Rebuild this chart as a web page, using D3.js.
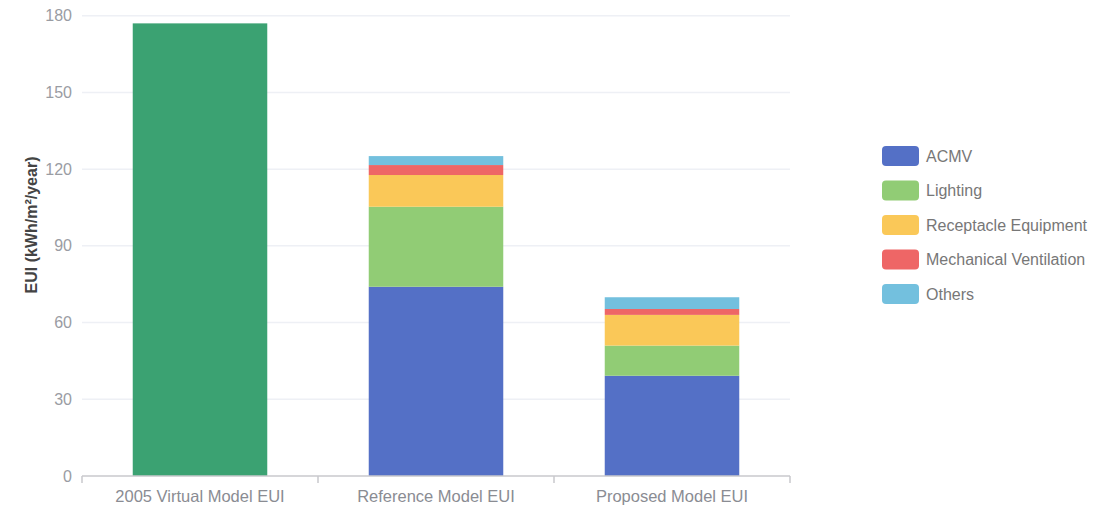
<!DOCTYPE html>
<html>
<head>
<meta charset="utf-8">
<script src="https://cdn.jsdelivr.net/npm/d3@7"></script>
<style>
  html, body { margin: 0; padding: 0; background: #fff; }
  svg { display: block; font-family: "Liberation Sans", Arial, sans-serif; }
</style>
</head>
<body>
<svg id="chart"></svg>
<script>
// categories and series values (EUI, kWh/m2/year)
const categories = ["2005 Virtual Model EUI", "Reference Model EUI", "Proposed Model EUI"];
const virtualModel = [177, 0, 0];
const acmv = [0, 74.0, 39.2];
const lighting = [0, 31.3, 11.8];
const receptacle = [0, 12.4, 12.0];
const mechVent = [0, 3.9, 2.3];
const others = [0, 3.5, 4.6];
const seriesNames = ["ACMV", "Lighting", "Receptacle Equipment", "Mechanical Ventilation", "Others"];
const yTicks = [0, 30, 60, 90, 120, 150, 180];

const w = 1112, h = 505;
const margin = {top: 15.7, right: 322, bottom: 29, left: 82};
const svg = d3.select("#chart").attr("width", w).attr("height", h);

const x = d3.scaleBand().domain(categories).range([margin.left, w - margin.right]);
const y = d3.scaleLinear().domain([0, 180]).range([h - margin.bottom, margin.top]);
const barW = x.bandwidth() * 0.57;

const colors = d3.scaleOrdinal().domain(seriesNames)
  .range(["#5470c6", "#91cc75", "#fac858", "#ee6666", "#73c0de"]);

// grid lines
svg.append("g").selectAll("line")
  .data(yTicks.filter(d => d > 0))
  .join("line")
  .attr("x1", margin.left).attr("x2", w - margin.right)
  .attr("y1", d => y(d)).attr("y2", d => y(d))
  .attr("stroke", "#eef0f5").attr("stroke-width", 1.5);

// y tick labels
svg.append("g").selectAll("text")
  .data(yTicks)
  .join("text")
  .attr("x", margin.left - 10).attr("y", d => y(d))
  .attr("dy", "0.35em").attr("text-anchor", "end")
  .attr("font-size", 16).attr("fill", "#9a9ca3")
  .text(d => d);

// y axis title
svg.append("text")
  .attr("transform", `translate(31,${225}) rotate(-90)`)
  .attr("text-anchor", "middle").attr("dy", "0.35em")
  .attr("font-size", 16).attr("font-weight", "bold").attr("fill", "#444")
  .text("EUI (kWh/m²/year)");

// single bar
svg.append("g").selectAll("rect")
  .data(categories.map((c, i) => ({c, v: virtualModel[i]})).filter(d => d.v > 0))
  .join("rect")
  .attr("x", d => x(d.c) + (x.bandwidth() - barW) / 2)
  .attr("width", barW)
  .attr("y", d => y(d.v))
  .attr("height", d => y(0) - y(d.v))
  .attr("fill", "#3ba272");

// stacked bars
const rows = categories.map((c, i) => ({
  cat: c,
  "ACMV": acmv[i], "Lighting": lighting[i], "Receptacle Equipment": receptacle[i],
  "Mechanical Ventilation": mechVent[i], "Others": others[i]
}));
const stacked = d3.stack().keys(seriesNames)(rows);

svg.append("g").selectAll("g")
  .data(stacked)
  .join("g")
  .attr("fill", d => colors(d.key))
  .selectAll("rect")
  .data(d => d.filter(s => s[1] - s[0] > 0))
  .join("rect")
  .attr("x", d => x(d.data.cat) + (x.bandwidth() - barW) / 2)
  .attr("width", barW)
  .attr("y", d => y(d[1]))
  .attr("height", d => y(d[0]) - y(d[1]));

// x axis
const xAxis = svg.append("g");
xAxis.append("line")
  .attr("x1", margin.left).attr("x2", w - margin.right)
  .attr("y1", y(0)).attr("y2", y(0))
  .attr("stroke", "#c8c9cc").attr("stroke-width", 1.5);
const bounds = categories.map(c => x(c)).concat([x(categories[categories.length - 1]) + x.bandwidth()]);
xAxis.selectAll(".tick")
  .data(bounds)
  .join("line")
  .attr("x1", d => d).attr("x2", d => d)
  .attr("y1", y(0)).attr("y2", y(0) + 7)
  .attr("stroke", "#c8c9cc").attr("stroke-width", 1.5);
xAxis.selectAll("text")
  .data(categories)
  .join("text")
  .attr("x", d => x(d) + x.bandwidth() / 2)
  .attr("y", y(0) + 20)
  .attr("dy", "0.35em").attr("text-anchor", "middle")
  .attr("font-size", 16.5).attr("fill", "#8a8c93")
  .text(d => d);

// legend
const legend = svg.append("g").attr("transform", "translate(882,146)");
const item = legend.selectAll("g")
  .data(seriesNames)
  .join("g")
  .attr("transform", (d, i) => `translate(0,${i * 34.5})`);
item.append("rect")
  .attr("width", 37).attr("height", 20).attr("rx", 4)
  .attr("fill", d => colors(d));
item.append("text")
  .attr("x", 44).attr("y", 10).attr("dy", "0.35em")
  .attr("font-size", 16).attr("fill", "#777")
  .text(d => d);
</script>
</body>
</html>
